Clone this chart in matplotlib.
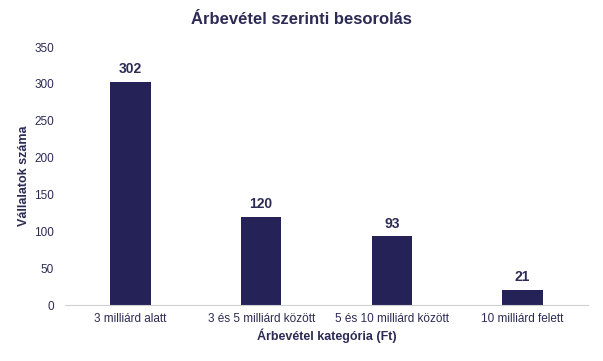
import matplotlib
matplotlib.use("Agg")
import matplotlib.pyplot as plt

categories = ["3 milliárd alatt", "3 és 5 milliárd között",
              "5 és 10 milliárd között", "10 milliárd felett"]
counts = [302, 120, 93, 21]
yticks = [0, 50, 100, 150, 200, 250, 300, 350]

navy = "#252258"
textc = "#2b2b55"

plt.rcParams["font.family"] = ["Liberation Sans", "DejaVu Sans"]

fig = plt.figure(figsize=(6.03, 3.61), dpi=100)
ax = fig.add_axes([65/603, 1-305/361, 523/603, 258/361])

x = range(len(categories))
bars = ax.bar(x, counts, width=0.31, color=navy)
for b, v in zip(bars, counts):
    ax.text(b.get_x() + b.get_width()/2, v + 8, str(v), ha="center", va="bottom",
            fontsize=10, fontweight="bold", color=textc)

ax.set_xlim(-0.5, len(categories) - 0.5)
ax.set_ylim(0, 350)
ax.set_yticks(yticks)
ax.set_xticks(list(x))
ax.set_xticklabels(categories)
ax.tick_params(length=0, labelsize=8.5, colors=textc)
ax.tick_params(axis="y", pad=8)
ax.tick_params(axis="x", pad=6)
for s in ["top", "right", "left"]:
    ax.spines[s].set_visible(False)
ax.spines["bottom"].set_color("#d0d0d0")

ax.set_xlabel("Árbevétel kategória (Ft)", fontsize=9, fontweight="bold", color=textc, labelpad=2)
ax.set_ylabel("Vállalatok száma", fontsize=9, fontweight="bold", color=textc, labelpad=3)
fig.text(301/603, 1-20/361, "Árbevétel szerinti besorolás", ha="center", va="center",
         fontsize=12, fontweight="bold", color=textc)

fig.savefig("out.png", dpi=100)
